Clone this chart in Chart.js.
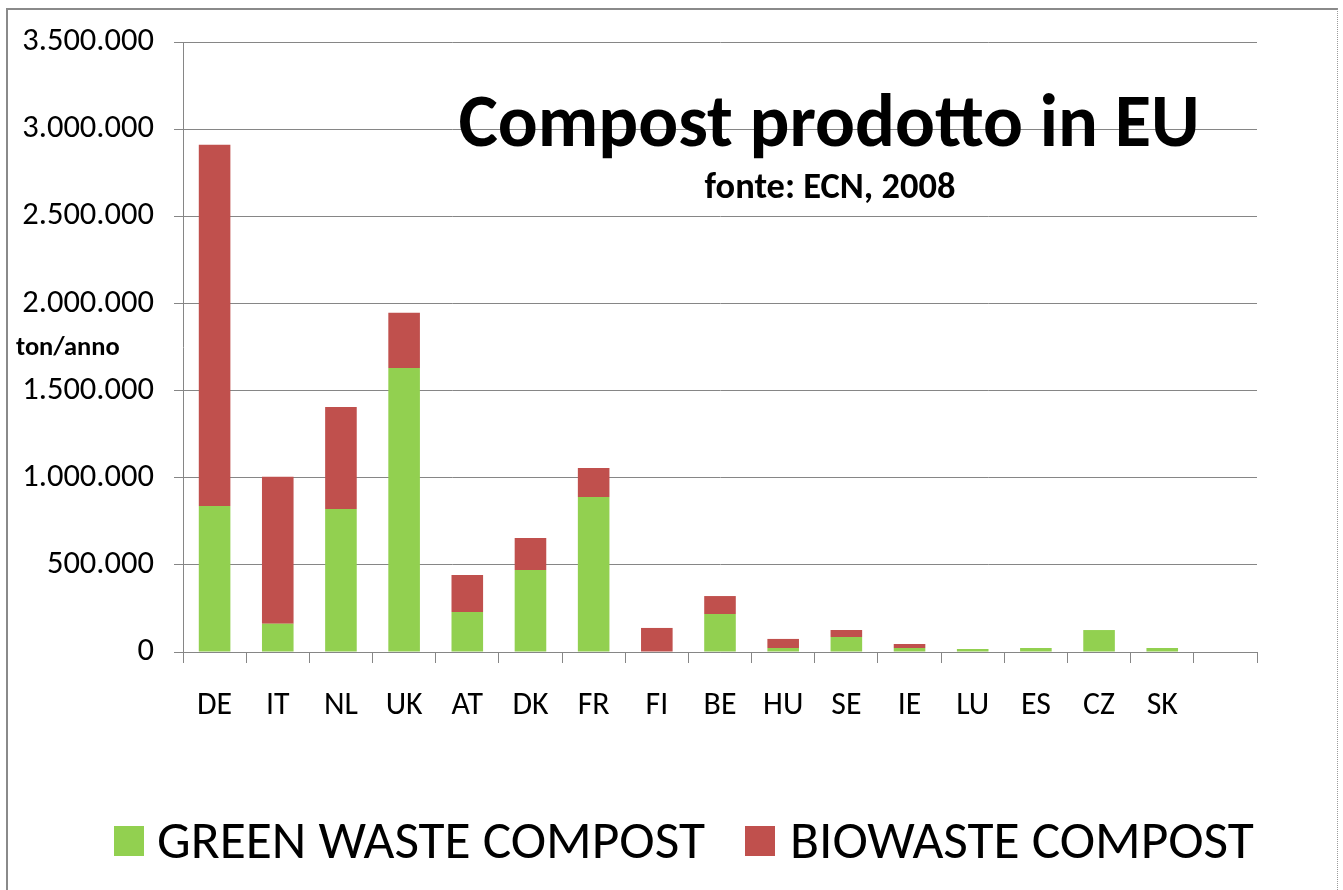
<!DOCTYPE html>
<html>
<head>
<meta charset="utf-8">
<script src="https://cdn.jsdelivr.net/npm/chart.js@4.4.1/dist/chart.umd.min.js"></script>
<style>
html,body{margin:0;padding:0;background:#fff;overflow:hidden;}
#wrap{position:relative;width:1343px;height:890px;overflow:hidden;}
#c{position:absolute;left:0;top:0;}
#frame{position:absolute;left:6px;top:8px;width:1329px;height:900px;border-left:2px solid #8a8a8a;border-top:2px solid #8a8a8a;border-right:1px dotted #9a9a9a;pointer-events:none;}
</style>
</head>
<body>
<div id="wrap"><canvas id="c" width="1343" height="890"></canvas><div id="frame"></div></div>
<script>
// ---- data ----
const categories = ['DE','IT','NL','UK','AT','DK','FR','FI','BE','HU','SE','IE','LU','ES','CZ','SK',''];
const greenWaste = [838000, 162000, 821000, 1630000, 230000, 471000, 890000, 0, 218000, 23000, 86000, 23000, 17000, 23000, 126000, 23000, null];
const bioWaste   = [2072000, 843000, 585000, 316000, 212000, 183000, 166000, 138000, 103000, 52000, 40000, 23000, 0, 0, 0, 0, null];
const yTicks = [0, 500000, 1000000, 1500000, 2000000, 2500000, 3000000, 3500000];
const seriesLabels = ['GREEN WASTE COMPOST', 'BIOWASTE COMPOST'];
const seriesColors = ['#92D050', '#C0504D'];
const titleText = 'Compost prodotto in EU';
const subtitleText = 'fonte: ECN, 2008';
const yAxisTitle = 'ton/anno';

// ---- font fitting ----
const FAMILY = '"Carlito", "Lato", "Liberation Sans", sans-serif';
const mctx = document.createElement('canvas').getContext('2d');
function fit(text, weight, target) {
  mctx.font = weight + ' 100px ' + FAMILY;
  const m = mctx.measureText(text);
  const w = (m.actualBoundingBoxRight || 0) + (m.actualBoundingBoxLeft || 0) || m.width;
  return 100 * target / w;
}
const fsYTick = fit('3.500.000', 'normal', 130);
const fsXTick = fit('DE', 'normal', 32);
const fsLegend = fit(seriesLabels[0], 'normal', 546);
const fsTitle = fit(titleText, 'bold', 736);
const fsSub = fit(subtitleText, 'bold', 250);
const fsYTitle = fit(yAxisTitle, 'bold', 103);

function fmt(v) {
  return String(Math.round(v)).replace(/\B(?=(\d{3})+(?!\d))/g, '.');
}

const GRID = '#868686';

const overlay = {
  id: 'overlay',
  afterDraw(chart) {
    const ctx = chart.ctx;
    ctx.save();
    ctx.fillStyle = '#000';
    // title
    ctx.font = 'bold ' + fsTitle + 'px ' + FAMILY;
    ctx.textAlign = 'center';
    ctx.textBaseline = 'alphabetic';
    ctx.fillText(titleText, 829, 146);
    ctx.font = 'bold ' + fsSub + 'px ' + FAMILY;
    ctx.fillText(subtitleText, 830, 198);
    // y axis title
    ctx.font = 'bold ' + fsYTitle + 'px ' + FAMILY;
    ctx.textAlign = 'left';
    ctx.fillText(yAxisTitle, 16, 355);
    // legend
    const boxX = [114, 745];
    const textX = [157, 790];
    chart.data.datasets.forEach((ds, i) => {
      ctx.fillStyle = ds.backgroundColor;
      ctx.fillRect(boxX[i], 826, 30, 30);
      ctx.fillStyle = '#000';
      ctx.font = 'normal ' + fsLegend + 'px ' + FAMILY;
      ctx.textAlign = 'left';
      ctx.textBaseline = 'alphabetic';
      ctx.fillText(ds.label, textX[i], 858);
    });
    ctx.restore();
  }
};

new Chart(document.getElementById('c'), {
  type: 'bar',
  data: {
    labels: categories,
    datasets: [
      { label: seriesLabels[0], data: greenWaste, backgroundColor: seriesColors[0] },
      { label: seriesLabels[1], data: bioWaste, backgroundColor: seriesColors[1] }
    ]
  },
  options: {
    responsive: false,
    animation: false,
    events: [],
    layout: { padding: { left: 10, right: 86, top: 42, bottom: 138 } },
    datasets: { bar: { categoryPercentage: 1.0, barPercentage: 0.5 } },
    plugins: { legend: { display: false }, tooltip: { enabled: false }, title: { display: false } },
    scales: {
      x: {
        stacked: true,
        afterFit(s) { s.height = 100; },
        grid: { display: true, drawOnChartArea: false, offset: true, tickLength: 11, color: GRID, lineWidth: 1 },
        border: { display: true, color: GRID, width: 1 },
        ticks: { color: '#000', font: { family: FAMILY, size: fsXTick }, padding: 24, maxRotation: 0, autoSkip: false }
      },
      y: {
        stacked: true,
        min: 0,
        max: 3500000,
        afterFit(s) { s.width = 173; },
        afterBuildTicks(s) { s.ticks = yTicks.map(v => ({ value: v })); },
        grid: { display: true, color: GRID, lineWidth: 1, tickLength: 9 },
        border: { display: true, color: GRID, width: 1 },
        ticks: { color: '#000', font: { family: FAMILY, size: fsYTick }, padding: 20, callback: v => fmt(v) }
      }
    }
  },
  plugins: [overlay]
});
</script>
</body>
</html>
